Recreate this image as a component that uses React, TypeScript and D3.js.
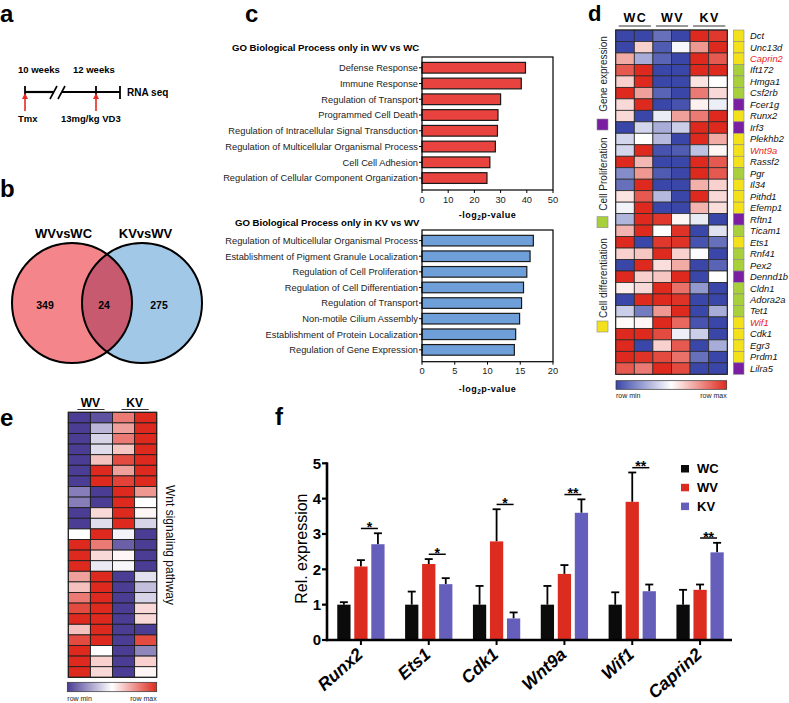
import React from "react";
import * as d3 from "d3";

const FONT = "'Liberation Sans', Arial, Helvetica, sans-serif";

// ---------- Panel a ----------
const timelineTop = ["10 weeks", "12 weeks"];
const timelineBottom = ["Tmx", "13mg/kg VD3"];
const timelineEnd = "RNA seq";

// ---------- Panel b ----------
const vennSetNames = ["WVvsWC", "KVvsWV"];
const vennCounts = [349, 24, 275];

// ---------- Panel c ----------
const goWvTitle = "GO Biological Process only in WV vs WC";
const goWvTerms = [
  "Defense Response",
  "Immune Response",
  "Regulation of Transport",
  "Programmed Cell Death",
  "Regulation of Intracellular Signal Transduction",
  "Regulation of Multicellular Organismal Process",
  "Cell Cell Adhesion",
  "Regulation of Cellular Component Organization",
];
const goWvValues = [39.5, 37.9, 30.0, 29.0, 28.8, 28.0, 25.9, 24.8];
const goWvTicks = [0, 10, 20, 30, 40, 50];

const goKvTitle = "GO Biological Process only in KV vs WV";
const goKvTerms = [
  "Regulation of Multicellular Organismal Process",
  "Establishment of Pigment Granule Localization",
  "Regulation of Cell Proliferation",
  "Regulation of Cell Differentiation",
  "Regulation of Transport",
  "Non-motile Cilium Assembly",
  "Establishment of Protein Localization",
  "Regulation of Gene Expression",
];
const goKvValues = [17.0, 16.5, 16.0, 15.5, 15.2, 14.9, 14.3, 14.1];
const goKvTicks = [0, 5, 10, 15, 20];

// ---------- Panel d ----------
const dGroups = ["WC", "WV", "KV"];
const dGenes = [
  "Dct", "Unc13d", "Caprin2", "Ift172", "Hmga1", "Csf2rb", "Fcer1g", "Runx2", "Irf3", "Plekhb2",
  "Wnt9a", "Rassf2", "Pgr", "Il34", "Pithd1", "Efemp1", "Rftn1", "Ticam1", "Ets1", "Rnf41",
  "Pex2", "Dennd1b", "Cldn1", "Adora2a", "Tet1", "Wif1", "Cdk1", "Egr3", "Prdm1", "Lilra5",
];
const dHighlighted = ["Caprin2", "Wnt9a", "Wif1"];
const dCategories = ["Gene expression", "Cell Proliferation", "Cell differentiation"];
const dGeneCategory = [
  "Cell differentiation", "Cell differentiation", "Cell differentiation", "Cell Proliferation", "Cell Proliferation",
  "Cell Proliferation", "Gene expression", "Cell differentiation", "Gene expression", "Cell differentiation",
  "Cell differentiation", "Cell differentiation", "Cell Proliferation", "Cell differentiation", "Cell differentiation",
  "Cell differentiation", "Gene expression", "Cell Proliferation", "Cell differentiation", "Cell Proliferation",
  "Cell Proliferation", "Gene expression", "Cell Proliferation", "Cell Proliferation", "Cell Proliferation",
  "Cell differentiation", "Cell differentiation", "Cell differentiation", "Cell differentiation", "Gene expression",
];
const dValues = [
  [0.05, 0.05, 0.15, 0.05, 0.95, 0.92],
  [0.05, 0.6, 0.1, 0.48, 0.72, 0.95],
  [0.68, 0.3, 0.12, 0.05, 0.95, 0.85],
  [0.85, 0.95, 0.05, 0.05, 0.95, 0.95],
  [0.6, 0.95, 0.05, 0.05, 0.56, 0.5],
  [0.95, 0.7, 0.12, 0.05, 0.78, 0.58],
  [0.58, 0.95, 0.05, 0.08, 0.53, 0.46],
  [0.58, 0.05, 0.45, 0.7, 0.78, 0.95],
  [0.05, 0.4, 0.3, 0.38, 0.95, 0.95],
  [0.4, 0.5, 0.33, 0.05, 0.95, 0.68],
  [0.4, 0.95, 0.08, 0.1, 0.35, 0.52],
  [0.95, 0.65, 0.05, 0.05, 0.95, 0.85],
  [0.22, 0.72, 0.1, 0.05, 0.95, 0.85],
  [0.15, 0.95, 0.05, 0.05, 0.67, 0.6],
  [0.56, 0.85, 0.33, 0.05, 0.95, 0.58],
  [0.47, 0.95, 0.05, 0.05, 0.66, 0.57],
  [0.32, 0.95, 0.92, 0.52, 0.45, 0.05],
  [0.66, 0.95, 0.5, 0.93, 0.05, 0.43],
  [0.95, 0.05, 0.92, 0.93, 0.08, 0.15],
  [0.6, 0.62, 0.95, 0.6, 0.49, 0.05],
  [0.05, 0.95, 0.57, 0.68, 0.05, 0.12],
  [0.95, 0.6, 0.62, 0.95, 0.05, 0.5],
  [0.54, 0.58, 0.95, 0.8, 0.25, 0.05],
  [0.05, 0.95, 0.95, 0.93, 0.05, 0.05],
  [0.38, 0.18, 0.72, 0.95, 0.05, 0.3],
  [0.51, 0.52, 0.95, 0.82, 0.08, 0.05],
  [0.95, 0.95, 0.88, 0.46, 0.38, 0.05],
  [0.95, 0.05, 0.6, 0.85, 0.05, 0.3],
  [0.95, 0.93, 0.88, 0.8, 0.15, 0.05],
  [0.85, 0.78, 0.95, 0.88, 0.05, 0.05],
];
const colorbarLabels = ["row min", "row max"];

// ---------- Panel e ----------
const eGroups = ["WV", "KV"];
const eTitle = "Wnt signaling pathway";
const eValues = [
  [0.05, 0.1, 0.78, 0.95],
  [0.05, 0.33, 0.7, 0.95],
  [0.05, 0.4, 0.78, 0.95],
  [0.05, 0.42, 0.62, 0.95],
  [0.05, 0.63, 0.88, 0.95],
  [0.05, 0.95, 0.7, 0.95],
  [0.05, 0.95, 0.9, 0.95],
  [0.2, 0.05, 0.95, 0.72],
  [0.2, 0.05, 0.95, 0.5],
  [0.05, 0.58, 0.95, 0.52],
  [0.05, 0.42, 0.95, 0.4],
  [0.5, 0.95, 0.47, 0.05],
  [0.95, 0.78, 0.13, 0.05],
  [0.95, 0.58, 0.52, 0.05],
  [0.95, 0.45, 0.48, 0.05],
  [0.7, 0.95, 0.05, 0.43],
  [0.63, 0.95, 0.05, 0.35],
  [0.78, 0.95, 0.05, 0.4],
  [0.88, 0.95, 0.05, 0.58],
  [0.95, 0.95, 0.05, 0.58],
  [0.63, 0.95, 0.05, 0.05],
  [0.88, 0.95, 0.05, 0.88],
  [0.95, 0.5, 0.05, 0.22],
  [0.95, 0.6, 0.05, 0.6],
  [0.95, 0.58, 0.05, 0.52],
];

// ---------- Panel f ----------
const fGenes = ["Runx2", "Ets1", "Cdk1", "Wnt9a", "Wif1", "Caprin2"];
const fSeries = ["WC", "WV", "KV"];
const fWC = [1, 1, 1, 1, 1, 1];
const fWCErr = [0.07, 0.37, 0.53, 0.53, 0.35, 0.42];
const fWV = [2.08, 2.15, 2.79, 1.87, 3.91, 1.42];
const fWVErr = [0.18, 0.14, 0.91, 0.25, 0.83, 0.15];
const fKV = [2.71, 1.58, 0.61, 3.6, 1.38, 2.48];
const fKVErr = [0.31, 0.17, 0.17, 0.38, 0.19, 0.27];
const fSig = ["*", "*", "*", "**", "**", "**"];
const fTicks = [0, 1, 2, 3, 4, 5];
const fYLabel = "Rel. expression";

// ---------- styles ----------
const RED_BAR = "#E8433E";
const BLUE_BAR = "#6F9FD8";
const SERIES_COLORS: Record<string, string> = { WC: "#0B0B0B", WV: "#DC2B1F", KV: "#665EBB" };
const CAT_COLORS: Record<string, string> = {
  "Gene expression": "#7B1FA2",
  "Cell Proliferation": "#A8CF3C",
  "Cell differentiation": "#F3E11B",
};

function PanelLabel({ x, y, t, size = 24 }: { x: number; y: number; t: string; size?: number }) {
  return (
    <text x={x} y={y} fontSize={size} fontWeight="bold" fill="#000">
      {t}
    </text>
  );
}

function PanelA() {
  const yLine = 92;
  const xs = [25, 96, 120];
  const arrow = (x: number) => (
    <g key={x}>
      <line x1={x} x2={x} y1={111} y2={97} stroke="#E52A22" strokeWidth={1.6} />
      <path d={`M${x - 3},${99} L${x + 3},${99} L${x},${93} Z`} fill="#E52A22" />
    </g>
  );
  return (
    <g>
      <PanelLabel x={0} y={22} t="a" />
      <text x={18} y={73} fontSize={9.5} fontWeight="bold">{timelineTop[0]}</text>
      <text x={73} y={73} fontSize={9.5} fontWeight="bold">{timelineTop[1]}</text>
      <line x1={xs[0]} x2={53} y1={yLine} y2={yLine} stroke="#000" strokeWidth={2.2} />
      <line x1={62} x2={xs[2]} y1={yLine} y2={yLine} stroke="#000" strokeWidth={2.2} />
      <line x1={50} x2={57} y1={99} y2={86} stroke="#000" strokeWidth={1.6} />
      <line x1={58} x2={65} y1={99} y2={86} stroke="#000" strokeWidth={1.6} />
      {xs.map((x) => (
        <line key={x} x1={x} x2={x} y1={86} y2={99} stroke="#000" strokeWidth={1.8} />
      ))}
      {arrow(xs[0])}
      {arrow(xs[1])}
      <text x={127} y={96} fontSize={10} fontWeight="bold">{timelineEnd}</text>
      <text x={18} y={122} fontSize={9.5} fontWeight="bold">{timelineBottom[0]}</text>
      <text x={61} y={122} fontSize={9.5} fontWeight="bold">{timelineBottom[1]}</text>
    </g>
  );
}

function PanelB() {
  const cy = 303, r = 60;
  const cx = [72, 142];
  return (
    <g>
      <PanelLabel x={0} y={197} t="b" />
      <defs>
        <clipPath id="vennClip">
          <circle cx={cx[1]} cy={cy} r={r} />
        </clipPath>
      </defs>
      <circle cx={cx[0]} cy={cy} r={r} fill="#F4868B" />
      <circle cx={cx[1]} cy={cy} r={r} fill="#A2C8E8" />
      <circle cx={cx[0]} cy={cy} r={r} fill="#C85A70" clipPath="url(#vennClip)" />
      <circle cx={cx[0]} cy={cy} r={r} fill="none" stroke="#000" strokeWidth={2} />
      <circle cx={cx[1]} cy={cy} r={r} fill="none" stroke="#000" strokeWidth={2} />
      <text x={63.5} y={238} fontSize={13} fontWeight="bold" textAnchor="middle">{vennSetNames[0]}</text>
      <text x={145.5} y={238} fontSize={13} fontWeight="bold" textAnchor="middle">{vennSetNames[1]}</text>
      {[45, 104, 159].map((x, i) => (
        <text key={i} x={x} y={309} fontSize={10.5} fontWeight="bold" textAnchor="middle">
          {vennCounts[i]}
        </text>
      ))}
    </g>
  );
}

function GoChart(props: {
  title: string; titleX: number; titleY: number; terms: string[]; values: number[];
  ticks: number[]; top: number; bottom: number; fill: string; xLabelY: number;
}) {
  const { title, titleX, titleY, terms, values, ticks, top, bottom, fill, xLabelY } = props;
  const left = 422, right = 553;
  const x = d3.scaleLinear().domain([0, ticks[ticks.length - 1]]).range([left, right]);
  const y = d3.scaleBand<string>().domain(terms).range([top, bottom]).paddingInner(0.32).paddingOuter(0.38).align(0.45);
  const bw = y.bandwidth();
  return (
    <g>
      <text x={titleX} y={titleY} fontSize={9.6} fontWeight="bold">{title}</text>
      {terms.map((t, i) => (
        <g key={t}>
          <rect x={x(0)} y={y(t)!} width={x(values[i]) - x(0)} height={bw} fill={fill} stroke="#1a1a1a" strokeWidth={1.2} />
          <line x1={left - 3} x2={left} y1={y(t)! + bw / 2} y2={y(t)! + bw / 2} stroke="#000" strokeWidth={1} />
          <text x={left - 4} y={y(t)! + bw / 2 + 3.3} fontSize={9.3} textAnchor="end" fill="#222">{t}</text>
        </g>
      ))}
      <rect x={left} y={top} width={right - left} height={bottom - top} fill="none" stroke="#000" strokeWidth={1.2} />
      {ticks.map((v) => (
        <g key={v}>
          <line x1={x(v)} x2={x(v)} y1={bottom} y2={bottom + 3} stroke="#000" strokeWidth={1} />
          <text x={x(v)} y={bottom + 12.5} fontSize={9.3} textAnchor="middle" fill="#222">{v}</text>
        </g>
      ))}
      <text x={(left + right) / 2} y={xLabelY} fontSize={9} fontWeight="bold" textAnchor="middle" letterSpacing={0.5}>
        -log<tspan fontSize={6.5} dy={2}>2</tspan><tspan dy={-2}>p-value</tspan>
      </text>
    </g>
  );
}

function PanelC() {
  return (
    <g>
      <PanelLabel x={245} y={22} t="c" />
      <GoChart title={goWvTitle} titleX={232} titleY={51} terms={goWvTerms} values={goWvValues} ticks={goWvTicks}
        top={57} bottom={190} fill={RED_BAR} xLabelY={218} />
      <GoChart title={goKvTitle} titleX={235} titleY={225.5} terms={goKvTerms} values={goKvValues} ticks={goKvTicks}
        top={230} bottom={361.7} fill={BLUE_BAR} xLabelY={392} />
    </g>
  );
}

function Colorbar({ id, x0, x1, y0, y1, colors }: { id: string; x0: number; x1: number; y0: number; y1: number; colors: string[] }) {
  return (
    <g>
      <defs>
        <linearGradient id={id} x1="0" x2="1" y1="0" y2="0">
          <stop offset="0" stopColor={colors[0]} />
          <stop offset="0.5" stopColor={colors[1]} />
          <stop offset="1" stopColor={colors[2]} />
        </linearGradient>
      </defs>
      <rect x={x0} y={y0} width={x1 - x0} height={y1 - y0} fill={`url(#${id})`} stroke="#333" strokeWidth={0.7} />
      <text x={x0} y={y1 + 9} fontSize={7} fill="#222">{colorbarLabels[0]}</text>
      <text x={x1} y={y1 + 9} fontSize={7} fill="#222" textAnchor="end">{colorbarLabels[1]}</text>
    </g>
  );
}

function PanelD() {
  const cols = d3.range(6);
  const x = d3.scaleBand<number>().domain(cols).range([615.7, 727.3]);
  const y = d3.scaleBand<string>().domain(dGenes).range([30, 374.3]);
  const dColors = ["#3A47A8", "#FFFFFF", "#DE2A1E"];
  const color = d3.scaleLinear<string>().domain([0.05, 0.5, 0.95]).range(dColors).clamp(true);
  const labelCenters = [74, 174, 278];
  const squareY = [119, 216.7, 321];
  return (
    <g>
      <PanelLabel x={588} y={21} t="d" size={22} />
      {dGroups.map((g, i) => {
        const a = x(i * 2)!, b = x(i * 2 + 1)! + x.bandwidth();
        return (
          <g key={g}>
            <text x={(a + b) / 2 + 1} y={22} fontSize={12.5} fontWeight="bold" textAnchor="middle" letterSpacing={1.5}>{g}</text>
            <line x1={a + 3} x2={b - 2} y1={26} y2={26} stroke="#333" strokeWidth={1} />
          </g>
        );
      })}
      {dGenes.map((gene, r) => (
        <g key={gene}>
          {cols.map((c) => (
            <rect key={c} x={x(c)!} y={y(gene)!} width={x.bandwidth()} height={y.bandwidth()}
              fill={color(dValues[r][c])} stroke="#2a2a2a" strokeWidth={0.8} />
          ))}
          <rect x={733.3} y={y(gene)!} width={10.7} height={y.bandwidth()} fill={CAT_COLORS[dGeneCategory[r]]}
            stroke="#8a8a8a" strokeWidth={0.6} />
          <text x={750} y={y(gene)! + y.bandwidth() / 2 + 3.3} fontSize={9.4} fontStyle="italic"
            fill={dHighlighted.includes(gene) ? "#E8221B" : "#111"}>{gene}</text>
        </g>
      ))}
      <rect x={615.7} y={30} width={727.3 - 615.7} height={374.3 - 30} fill="none" stroke="#222" strokeWidth={1} />
      {dCategories.map((c, i) => (
        <g key={c}>
          <text transform={`translate(607,${labelCenters[i]}) rotate(-90)`} fontSize={10} textAnchor="middle" fill="#222">{c}</text>
          <rect x={597} y={squareY[i]} width={11} height={11} fill={CAT_COLORS[c]} stroke="#8a8a8a" strokeWidth={0.6} />
        </g>
      ))}
      <Colorbar id="gradD" x0={616} x1={726.7} y0={380.7} y1={389.3} colors={dColors} />
    </g>
  );
}

function PanelE() {
  const cols = d3.range(4);
  const rows = d3.range(eValues.length);
  const x = d3.scaleBand<number>().domain(cols).range([68.3, 156.7]);
  const y = d3.scaleBand<number>().domain(rows).range([412.3, 677.3]);
  const eColors = ["#4B3C94", "#FFFFFF", "#DE2A1E"];
  const color = d3.scaleLinear<string>().domain([0.05, 0.5, 0.95]).range(eColors).clamp(true);
  return (
    <g>
      <PanelLabel x={0} y={426} t="e" />
      {eGroups.map((g, i) => {
        const a = x(i * 2)!, b = x(i * 2 + 1)! + x.bandwidth();
        return (
          <g key={g}>
            <text x={(a + b) / 2} y={406.5} fontSize={12} fontWeight="bold" textAnchor="middle">{g}</text>
            <line x1={a + 9} x2={b - 8} y1={409.5} y2={409.5} stroke="#333" strokeWidth={1} />
          </g>
        );
      })}
      {rows.map((r) => (
        <g key={r}>
          {cols.map((c) => (
            <rect key={c} x={x(c)!} y={y(r)!} width={x.bandwidth()} height={y.bandwidth()}
              fill={color(eValues[r][c])} stroke="#1e1e1e" strokeWidth={0.9} />
          ))}
        </g>
      ))}
      <rect x={68.3} y={412.3} width={156.7 - 68.3} height={677.3 - 412.3} fill="none" stroke="#1e1e1e" strokeWidth={1.1} />
      <text transform="translate(166,545) rotate(90)" fontSize={12} textAnchor="middle" fill="#111">{eTitle}</text>
      <Colorbar id="gradE" x0={67.3} x1={156.7} y0={682.3} y1={691.7} colors={eColors} />
    </g>
  );
}

function PanelF() {
  const left = 327, right = 734, bottom = 640, top = 463.3;
  const x = d3.scaleBand<string>().domain(fGenes).range([left, right]);
  const xs = d3.scaleBand<string>().domain(fSeries).range([-23.65, 23.65]).paddingInner(0.22);
  const y = d3.scaleLinear().domain([0, 5]).range([bottom, top]);
  const means: Record<string, number[]> = { WC: fWC, WV: fWV, KV: fKV };
  const errs: Record<string, number[]> = { WC: fWCErr, WV: fWVErr, KV: fKVErr };
  const bw = xs.bandwidth();
  return (
    <g>
      <PanelLabel x={275} y={425} t="f" />
      {fGenes.map((g, gi) => {
        const cx = x(g)! + x.bandwidth() / 2;
        const wvC = cx + xs("WV")! + bw / 2;
        const kvC = cx + xs("KV")! + bw / 2;
        const maxTop = Math.max(fWV[gi] + fWVErr[gi], fKV[gi] + fKVErr[gi]);
        const sy = y(maxTop) - 4.8;
        return (
          <g key={g}>
            {fSeries.map((s) => {
              const bx = cx + xs(s)!;
              const m = means[s][gi], e = errs[s][gi];
              const c = bx + bw / 2;
              return (
                <g key={s}>
                  <line x1={c} x2={c} y1={y(m)} y2={y(m + e)} stroke="#000" strokeWidth={1.8} />
                  <line x1={c - 4} x2={c + 4} y1={y(m + e)} y2={y(m + e)} stroke="#000" strokeWidth={1.8} />
                  <rect x={bx} y={y(m)} width={bw} height={y(0) - y(m)} fill={SERIES_COLORS[s]} />
                </g>
              );
            })}
            <line x1={wvC} x2={kvC} y1={sy} y2={sy} stroke="#000" strokeWidth={1.5} />
            <text x={(wvC + kvC) / 2} y={sy + 3.5} fontSize={14} fontWeight="bold" textAnchor="middle">{fSig[gi]}</text>
            <line x1={cx} x2={cx} y1={bottom} y2={bottom + 5} stroke="#000" strokeWidth={2} />
            <text transform={`translate(${cx + 3},${656}) rotate(-42)`} fontSize={17.5} fontWeight="bold" fontStyle="italic"
              textAnchor="end">{g}</text>
          </g>
        );
      })}
      <line x1={left} x2={left} y1={top - 1} y2={bottom + 1.2} stroke="#000" strokeWidth={2.6} />
      <line x1={left - 1.2} x2={732} y1={bottom} y2={bottom} stroke="#000" strokeWidth={2.6} />
      {fTicks.map((t) => (
        <g key={t}>
          <line x1={left - 5} x2={left} y1={y(t)} y2={y(t)} stroke="#000" strokeWidth={2.2} />
          <text x={left - 6} y={y(t) + 5.3} fontSize={15} fontWeight="bold" textAnchor="end">{t}</text>
        </g>
      ))}
      <text transform={`translate(307,${(top + bottom) / 2 - 3}) rotate(-90)`} fontSize={16} textAnchor="middle">{fYLabel}</text>
      {fSeries.map((s, i) => (
        <g key={s}>
          <rect x={681} y={465 + i * 18.8} width={8} height={7.5} fill={SERIES_COLORS[s]} />
          <text x={697} y={468.7 + i * 18.8 + 4.6} fontSize={13} fontWeight="bold">{s}</text>
        </g>
      ))}
    </g>
  );
}

export default function App() {
  return (
    <svg width={789} height={703} style={{ position: "absolute", left: 0, top: 0, background: "#fff" }}
      fontFamily={FONT}>
      <rect width={789} height={703} fill="#fff" />
      <PanelA />
      <PanelB />
      <PanelC />
      <PanelD />
      <PanelE />
      <PanelF />
    </svg>
  );
}
